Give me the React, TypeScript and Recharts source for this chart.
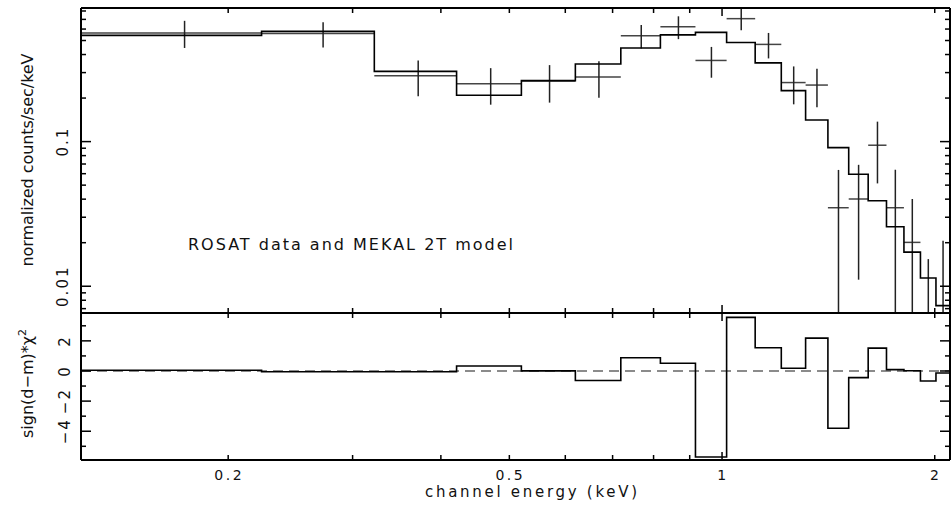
import React from 'react';
import { ComposedChart, Line, Scatter, ErrorBar, XAxis, YAxis, ReferenceLine } from 'recharts';

// channel bins (keV, lower edges), last bin runs to the right edge
const binLo = [0.124, 0.223, 0.322, 0.421, 0.520, 0.620, 0.719, 0.818, 0.917, 1.015,
  1.114, 1.213, 1.313, 1.412, 1.511, 1.610, 1.709, 1.809, 1.909, 2.008];
const binTop = 2.102;

// normalized counts/sec/keV
const rate = [0.564, 0.558, 0.285, 0.251, 0.262, 0.280, 0.540, 0.623, 0.364, 0.708,
  0.470, 0.256, 0.246, 0.0349, 0.0401, 0.0944, 0.0349, 0.0201, -0.0066, 0.0003];
const rateErr = [0.12, 0.11, 0.079, 0.071, 0.076, 0.079, 0.10, 0.112, 0.0875, 0.119,
  0.094, 0.075, 0.073, 0.0288, 0.029, 0.043, 0.029, 0.020, 0.022, 0.0203];
const model = [0.543, 0.578, 0.306, 0.209, 0.264, 0.344, 0.444, 0.547, 0.569, 0.485,
  0.350, 0.225, 0.141, 0.0909, 0.0594, 0.0390, 0.0258, 0.0172, 0.0114, 0.00734];

// sign(d-m)*chi^2
const resid = [0.05, -0.05, -0.05, 0.33, 0.01, -0.63, 0.88, 0.51, -5.71, 3.56,
  1.54, 0.18, 2.18, -3.80, -0.44, 1.52, 0.09, 0.02, -0.66, -0.13];

const xTicks = [0.2, 0.3, 0.4, 0.5, 0.6, 0.7, 0.8, 0.9, 1, 2];
const xMajor = [1];
const xLabelled = [0.2, 0.5, 1, 2];

const rateTicks = [0.007, 0.008, 0.009, 0.01, 0.02, 0.03, 0.04, 0.05, 0.06, 0.07, 0.08, 0.09,
  0.1, 0.2, 0.3, 0.4, 0.5, 0.6, 0.7, 0.8];
const rateMajor = [0.01, 0.1];

const residTicks = [-5, -4, -3, -2, -1, 0, 1, 2, 3];
const residMajor = [-4, -2, 0, 2];

const X_DOMAIN: [number, number] = [0.1238, 2.102];
const RATE_DOMAIN: [number, number] = [0.00653, 0.839];
const RESID_DOMAIN: [number, number] = [-5.91, 3.85];

const FONT = '"DejaVu Sans", sans-serif';
const INK = '#111';

const edges = (i: number) => (i + 1 < binLo.length ? binLo[i + 1] : binTop);

const modelSteps = [...binLo.map((e, i) => ({ e, v: model[i] })), { e: binTop, v: model[model.length - 1] }];
const residSteps = [...binLo.map((e, i) => ({ e, v: resid[i] })), { e: binTop, v: resid[resid.length - 1] }];

const yMin = RATE_DOMAIN[0];
const points = binLo.map((lo, i) => {
  const hi = edges(i);
  const d = rate[i];
  const s = rateErr[i];
  const v = Math.max(d, yMin);
  return {
    e: (lo + hi) / 2,
    v,
    xErr: (hi - lo) / 2,
    yErr: [v - Math.max(d - s, yMin), d + s - v],
  };
});

type Side = 'left' | 'right' | 'top' | 'bottom';

const makeTick = (side: Side, majors: number[], majorLen: number, minorLen: number,
  labelled: number[] = [], off = 0) => (p: any) => {
  const v = p.payload.value;
  const len = majors.includes(v) ? majorLen : minorLen;
  const { x, y } = p;
  let ln;
  if (side === 'left') ln = <line x1={x} y1={y} x2={x + len} y2={y} />;
  else if (side === 'right') ln = <line x1={x} y1={y} x2={x - len} y2={y} />;
  else if (side === 'top') ln = <line x1={x} y1={y} x2={x} y2={y + len} />;
  else ln = <line x1={x} y1={y} x2={x} y2={y - len} />;
  let label = null;
  if (labelled.includes(v)) {
    const txt = String(v).replace('-', '\u2212');
    if (side === 'left') {
      label = (
        <text x={x - off} y={y} transform={`rotate(-90 ${x - off} ${y})`} textAnchor="middle"
          fontFamily={FONT} fontSize={15} letterSpacing={2} fill={INK} stroke="none">{txt}</text>
      );
    } else {
      label = (
        <text x={x + 1} y={y + off} textAnchor="middle" fontFamily={FONT} fontSize={14}
          letterSpacing={2.5} fill={INK} stroke="none">{txt}</text>
      );
    }
  }
  return (
    <g stroke="#000" strokeWidth={1.5}>
      {ln}
      {label}
    </g>
  );
};

const frame = { stroke: '#000', strokeWidth: 2 };

const App = () => (
  <div style={{ position: 'absolute', left: 0, top: 0, width: 951, height: 508, background: '#fff' }}>
    <div style={{ position: 'absolute', left: 0, top: 0 }}>
      <ComposedChart width={951} height={314} margin={{ top: 7, right: 0, bottom: 0, left: 0 }}>
        <XAxis xAxisId="b" dataKey="e" type="number" scale="log" domain={X_DOMAIN} allowDataOverflow
          ticks={xTicks} interval={0} height={1} tickSize={0} tickMargin={0} tickLine={false}
          axisLine={frame} tick={makeTick('bottom', xMajor, 8, 5)} />
        <XAxis xAxisId="t" orientation="top" dataKey="e" type="number" scale="log" domain={X_DOMAIN}
          allowDataOverflow ticks={xTicks} interval={0} height={1} tickSize={0} tickMargin={0}
          tickLine={false} axisLine={frame} tick={makeTick('top', xMajor, 8, 5)} />
        <YAxis yAxisId="l" dataKey="v" type="number" scale="log" domain={RATE_DOMAIN} allowDataOverflow
          ticks={rateTicks} interval={0} width={81} tickSize={0} tickMargin={0} tickLine={false}
          axisLine={frame} tick={makeTick('left', rateMajor, 10, 5, rateMajor, 13)} />
        <YAxis yAxisId="r" orientation="right" type="number" scale="log" domain={RATE_DOMAIN}
          allowDataOverflow ticks={rateTicks} interval={0} width={1} tickSize={0} tickMargin={0}
          tickLine={false} axisLine={frame} tick={makeTick('right', rateMajor, 10, 5)} />
        <Scatter data={points} dataKey="v" xAxisId="b" yAxisId="l" isAnimationActive={false}
          shape={() => <g />}>
          <ErrorBar dataKey="xErr" direction="x" width={0} stroke="#444" strokeWidth={1.5}
            isAnimationActive={false} />
          <ErrorBar dataKey="yErr" direction="y" width={0} stroke="#222" strokeWidth={1.5}
            isAnimationActive={false} />
        </Scatter>
        <Line data={modelSteps} dataKey="v" type="stepAfter" xAxisId="b" yAxisId="l" dot={false}
          stroke="#000" strokeWidth={1.6} isAnimationActive={false} />
      </ComposedChart>
    </div>
    <div style={{ position: 'absolute', left: 0, top: 312 }}>
      <ComposedChart width={951} height={196} margin={{ top: 0, right: 0, bottom: 0, left: 0 }}>
        <XAxis xAxisId="b" dataKey="e" type="number" scale="log" domain={X_DOMAIN} allowDataOverflow
          ticks={xTicks} interval={0} height={48} tickSize={0} tickMargin={0} tickLine={false}
          axisLine={frame} tick={makeTick('bottom', xMajor, 8, 5, xLabelled, 20)} />
        <XAxis xAxisId="t" orientation="top" dataKey="e" type="number" scale="log" domain={X_DOMAIN}
          allowDataOverflow ticks={xTicks} interval={0} height={1} tickSize={0} tickMargin={0}
          tickLine={false} axisLine={frame} tick={makeTick('top', xMajor, 8, 5)} />
        <YAxis yAxisId="l" dataKey="v" type="number" domain={RESID_DOMAIN} allowDataOverflow
          ticks={residTicks} interval={0} width={81} tickSize={0} tickMargin={0} tickLine={false}
          axisLine={frame} tick={makeTick('left', residMajor, 10, 5, residMajor, 11)} />
        <YAxis yAxisId="r" orientation="right" type="number" domain={RESID_DOMAIN} allowDataOverflow
          ticks={residTicks} interval={0} width={1} tickSize={0} tickMargin={0} tickLine={false}
          axisLine={frame} tick={makeTick('right', residMajor, 10, 5)} />
        <ReferenceLine y={0} xAxisId="b" yAxisId="l" stroke="#666" strokeWidth={1.5}
          strokeDasharray="10 6" />
        <Line data={residSteps} dataKey="v" type="stepAfter" xAxisId="b" yAxisId="l" dot={false}
          stroke="#000" strokeWidth={1.6} isAnimationActive={false} />
      </ComposedChart>
    </div>
    <svg width={951} height={508} style={{ position: 'absolute', left: 0, top: 0, pointerEvents: 'none' }}>
      <text x={33} y={160} transform="rotate(-90 33 160)" textAnchor="middle" fontFamily={FONT}
        fontSize={16} fill={INK} textLength={213} lengthAdjust="spacing">normalized counts/sec/keV</text>
      <text x={33} y={438} transform="rotate(-90 33 438)" textAnchor="start" fontFamily={FONT}
        fontSize={16} fill={INK}>
        sign(d{'\u2212'}m)*{'\u03C7'}
        <tspan dy={-7} fontSize={11}>2</tspan>
      </text>
      <text x={188} y={250} fontFamily={FONT} fontSize={16} fill={INK} textLength={325}
        lengthAdjust="spacing">ROSAT data and MEKAL 2T model</text>
      <text x={425} y={497} fontFamily={FONT} fontSize={15} fill={INK} textLength={212}
        lengthAdjust="spacing">channel energy (keV)</text>
    </svg>
  </div>
);

export default App;
